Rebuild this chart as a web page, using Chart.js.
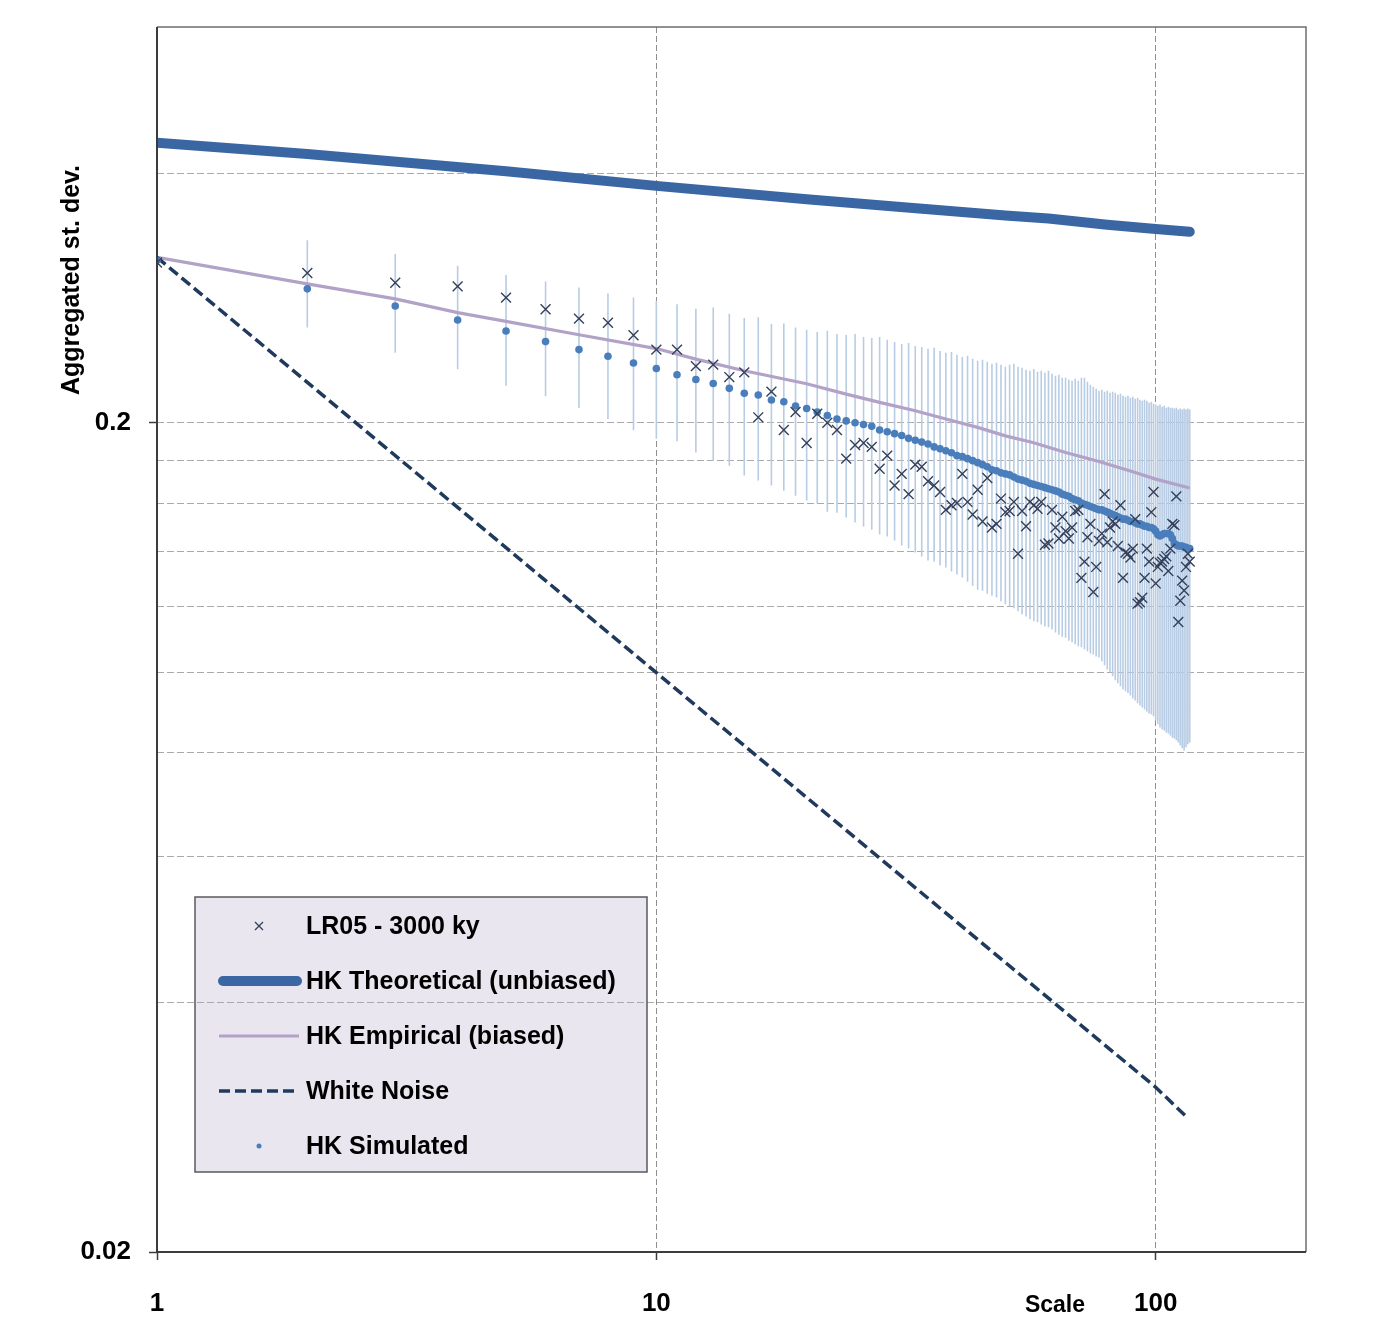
<!DOCTYPE html>
<html>
<head>
<meta charset="utf-8">
<script src="https://cdn.jsdelivr.net/npm/chart.js@4.4.0/dist/chart.umd.min.js"></script>
<style>
html,body{margin:0;padding:0;background:#ffffff;}
#wrap{width:1385px;height:1331px;position:relative;}
</style>
</head>
<body>
<div id="wrap"><canvas id="c" width="1385" height="1331"></canvas></div>
<script>
// ---------- DATA ----------
const scales = [1,2,3,4,5,6,7,8,9,10,11,12,13,14,15,16,17,18,19,20,21,22,23,24,25,26,27,28,29,30,
31,32,33,34,35,36,37,38,39,40,41,42,43,44,45,46,47,48,49,50,51,52,53,54,55,56,57,58,59,60,
61,62,63,64,65,66,67,68,69,70,71,72,73,74,75,76,77,78,79,80,81,82,83,84,85,86,87,88,89,90,
91,92,93,94,95,96,97,98,99,100,101,102,103,104,105,106,107,108,109,110,111,112,113,114,115,116,117];

const lr05 = [0.312,0.303,0.295,0.292,0.283,0.274,0.267,0.264,0.255,0.245,
0.245,0.234,0.235,0.227,0.230,0.203,0.218,0.196,0.206,0.189,
0.205,0.200,0.196,0.181,0.188,0.189,0.187,0.176,0.1825,0.168,
0.1735,0.164,0.178,0.177,0.170,0.168,0.165,0.157,0.159,0.160,
0.1735,0.1605,0.155,0.166,0.152,0.1715,0.1495,0.151,0.162,0.156,
0.1565,0.1605,0.139,0.1565,0.150,0.1605,0.159,0.1575,0.1605,0.1425,
0.143,0.157,0.1495,0.145,0.154,0.148,0.145,0.1495,0.1565,0.157,
0.130,0.136,0.1455,0.151,0.125,0.134,0.144,0.147,0.164,0.1435,
0.1495,0.152,0.151,0.142,0.159,0.130,0.1395,0.139,0.1375,0.141,
0.153,0.121,0.1215,0.123,0.130,0.141,0.136,0.156,0.165,0.128,
0.134,0.1355,0.136,0.137,0.138,0.1325,0.141,0.151,0.1505,0.163,
0.115,0.122,0.129,0.1255,0.134,0.139,0.136];

const simulated = [0.314,0.290,0.2765,0.266,0.258,0.2505,0.245,0.2405,0.236,0.2325,
0.2285,0.2255,0.223,0.220,0.217,0.216,0.213,0.212,0.2095,0.208,
0.206,0.204,0.202,0.201,0.200,0.199,0.198,0.196,0.195,0.194,
0.193,0.1915,0.1905,0.1895,0.1885,0.187,0.186,0.185,0.184,0.1825,
0.182,0.181,0.180,0.179,0.178,0.177,0.1755,0.175,0.174,0.1735,
0.173,0.172,0.171,0.1705,0.170,0.169,0.1685,0.168,0.1675,0.167,
0.1665,0.166,0.1655,0.165,0.164,0.1635,0.163,0.162,0.1615,0.161,
0.160,0.1595,0.159,0.1585,0.158,0.1575,0.157,0.157,0.1565,0.156,
0.1555,0.155,0.1545,0.154,0.1535,0.153,0.153,0.1525,0.152,0.152,
0.1515,0.151,0.151,0.1505,0.150,0.150,0.1495,0.1495,0.149,0.148,
0.1465,0.146,0.1465,0.147,0.147,0.147,0.1465,0.145,0.143,0.1425,
0.142,0.142,0.142,0.1415,0.1415,0.141,0.141];

const simHigh = [0.360,0.332,0.3194,0.3092,0.3014,0.2960,0.2911,0.2863,0.2832,0.2805,
0.2779,0.2745,0.2753,0.2706,0.2674,0.2680,0.2630,0.2634,0.2605,0.2588,
0.2573,0.2581,0.2559,0.2552,0.2559,0.2538,0.2531,0.2538,0.2517,0.2503,
0.2489,0.2496,0.2475,0.2468,0.2455,0.2462,0.2441,0.2428,0.2434,0.2415,
0.2401,0.2408,0.2388,0.2375,0.2382,0.2368,0.2355,0.2362,0.2349,0.2336,
0.2349,0.2355,0.2336,0.2329,0.2316,0.2310,0.2322,0.2304,0.2310,0.2297,
0.2310,0.2291,0.2279,0.2285,0.2266,0.2266,0.2253,0.2247,0.2260,0.2247,
0.2266,0.2266,0.2241,0.2222,0.2210,0.2197,0.2185,0.2191,0.2179,0.2185,
0.2173,0.2179,0.2173,0.2161,0.2167,0.2155,0.2150,0.2155,0.2144,0.2150,
0.2138,0.2144,0.2132,0.2126,0.2132,0.2126,0.2114,0.2120,0.2108,0.2103,
0.2097,0.2103,0.2091,0.2097,0.2085,0.2091,0.2085,0.2085,0.2080,0.2085,
0.2074,0.2080,0.2074,0.2080,0.2074,0.2080,0.2074];

const simLow = [0.2744,0.2605,0.2428,0.2320,0.2216,0.2152,0.2083,0.2021,0.1959,0.1913,
0.1899,0.1841,0.1800,0.1775,0.1727,0.1703,0.1680,0.1656,0.1633,0.1611,
0.1598,0.1562,0.1557,0.1537,0.1516,0.1499,0.1486,0.1466,0.1458,0.1442,
0.1422,0.1410,0.1395,0.1379,0.1364,0.1360,0.1345,0.1338,0.1323,0.1312,
0.1301,0.1286,0.1272,0.1258,0.1254,0.1244,0.1237,0.1231,0.1218,0.1208,
0.1201,0.1195,0.1185,0.1175,0.1168,0.1159,0.1152,0.1149,0.1142,0.1136,
0.1133,0.1126,0.1117,0.1110,0.1104,0.1101,0.1092,0.1087,0.1081,0.1075,
0.1072,0.1066,0.1060,0.1054,0.1051,0.1045,0.1042,0.1031,0.1020,0.1008,
0.1000,0.0989,0.0978,0.0970,0.0962,0.0954,0.0949,0.0944,0.0938,0.0930,
0.0925,0.0918,0.0912,0.0907,0.0902,0.0897,0.0892,0.0890,0.0885,0.0875,
0.0866,0.0858,0.0853,0.0851,0.0846,0.0844,0.0839,0.0834,0.0832,0.0828,
0.0823,0.0816,0.0810,0.0805,0.0812,0.0819,0.0823];

const theoScales = [1,2,5,10,20,30,50,61,80,100,117];
const theoValues = [0.435,0.4216,0.402,0.386,0.372,0.3645,0.3555,0.3525,0.3465,0.3424,0.3398];

const empScales = [1,2,3,4,5,7,10,12,15,20,24,28,33,38,44,50,57,66,77,90,100,117];
const empValues = [0.3165,0.294,0.282,0.2715,0.265,0.2553,0.2457,0.2386,0.231,0.2228,0.2165,0.2116,0.2067,0.2021,0.1974,0.1928,0.1892,0.1841,0.1796,0.1745,0.171,0.1668];

const wnScales = [1,10,100,116];
const wnValues = [0.3165,0.0999,0.0316,0.0290];

const seriesLabels = ['LR05 - 3000 ky','HK Theoretical (unbiased)','HK Empirical (biased)','White Noise','HK Simulated'];

const xTickValues = [1,10,100,200];
const xTickLabels = ['1','10','100',''];
const yTickValues = [0.02,0.04,0.06,0.08,0.1,0.12,0.14,0.16,0.18,0.2,0.4,0.6];
const yTickLabels = ['0.02','','','','','','','','','0.2','',''];

const xTitle = 'Scale';
const yTitle = 'Aggregated st. dev.';

// ---------- STYLES ----------
const FONT = '"Liberation Sans", Arial, sans-serif';
const C_THEO = '#3A67A3';
const C_EMP = '#B3A2C7';
const C_WN = '#1F3A5C';
const C_LR = '#34405A';
const C_SIM = '#4A7EBB';
const C_ERR = '#B8CCE4';

const pts = (xs, ys) => xs.map((x, i) => ({x: x, y: ys[i]}));
const errData = [];
scales.forEach((k, i) => {
  errData.push({x: k, y: simLow[i]}, {x: k, y: simHigh[i]}, {x: k, y: null});
});

function labelFor(values, labels, v) {
  for (let i = 0; i < values.length; i++) {
    if (Math.abs(values[i] - v) < 1e-9 * Math.max(1, v)) return labels[i];
  }
  return '';
}
const isEdge = (values, v) => Math.abs(v - values[0]) < 1e-12 || Math.abs(v - values[values.length - 1]) < 1e-9;

const decor = {
  id: 'decor',
  beforeDraw(chart) {
    const ctx = chart.ctx;
    ctx.save();
    ctx.fillStyle = '#ffffff';
    ctx.fillRect(0, 0, chart.width, chart.height);
    // legend background (under grid lines, as in the original)
    ctx.fillStyle = '#EAE6EF';
    ctx.fillRect(195, 897, 452, 275);
    ctx.restore();
  },
  afterDraw(chart) {
    const ctx = chart.ctx;
    const a = chart.chartArea;
    ctx.save();
    // frame
    ctx.strokeStyle = '#6E6E6E';
    ctx.lineWidth = 1.5;
    ctx.beginPath();
    ctx.moveTo(a.left, a.top); ctx.lineTo(a.right, a.top); ctx.lineTo(a.right, a.bottom);
    ctx.stroke();
    ctx.strokeStyle = '#3C3C3C';
    ctx.lineWidth = 2;
    ctx.beginPath();
    ctx.moveTo(a.left, a.top); ctx.lineTo(a.left, a.bottom); ctx.lineTo(a.right, a.bottom);
    ctx.stroke();

    // axis titles
    ctx.fillStyle = '#000';
    ctx.font = 'bold 25px ' + FONT;
    ctx.textAlign = 'center';
    ctx.textBaseline = 'middle';
    ctx.save();
    ctx.translate(72, 280);
    ctx.rotate(-Math.PI / 2);
    ctx.fillText(yTitle, 0, 0);
    ctx.restore();
    ctx.font = 'bold 23px ' + FONT;
    ctx.fillText(xTitle, 1055, 1306);

    // legend
    ctx.strokeStyle = '#595959';
    ctx.lineWidth = 1.5;
    ctx.strokeRect(195, 897, 452, 275);
    const rows = [926, 981, 1036, 1091, 1146];
    const mx = 259;
    // LR05 cross
    ctx.strokeStyle = C_LR; ctx.lineWidth = 1.3;
    ctx.beginPath();
    ctx.moveTo(mx - 4, rows[0] - 4); ctx.lineTo(mx + 4, rows[0] + 4);
    ctx.moveTo(mx + 4, rows[0] - 4); ctx.lineTo(mx - 4, rows[0] + 4);
    ctx.stroke();
    // theoretical
    ctx.strokeStyle = C_THEO; ctx.lineWidth = 10; ctx.lineCap = 'round';
    ctx.beginPath(); ctx.moveTo(223, rows[1]); ctx.lineTo(297, rows[1]); ctx.stroke();
    // empirical
    ctx.strokeStyle = C_EMP; ctx.lineWidth = 3; ctx.lineCap = 'butt';
    ctx.beginPath(); ctx.moveTo(219, rows[2]); ctx.lineTo(299, rows[2]); ctx.stroke();
    // white noise
    ctx.strokeStyle = C_WN; ctx.lineWidth = 3.5; ctx.setLineDash([11, 5]);
    ctx.beginPath(); ctx.moveTo(219, rows[3]); ctx.lineTo(299, rows[3]); ctx.stroke();
    ctx.setLineDash([]);
    // simulated dot
    ctx.fillStyle = C_SIM;
    ctx.beginPath(); ctx.arc(mx, rows[4], 2.5, 0, Math.PI * 2); ctx.fill();
    // texts
    ctx.fillStyle = '#000';
    ctx.font = 'bold 25px ' + FONT;
    ctx.textAlign = 'left';
    ctx.textBaseline = 'middle';
    seriesLabels.forEach((t, i) => ctx.fillText(t, 306, rows[i] + 1));
    ctx.restore();
  }
};

new Chart(document.getElementById('c'), {
  type: 'scatter',
  data: {
    datasets: [
      {label: 'errors', data: errData, showLine: true, spanGaps: false, borderColor: C_ERR, borderWidth: 1.6, pointRadius: 0, order: 6},
      {label: seriesLabels[2], data: pts(empScales, empValues), showLine: true, borderColor: C_EMP, borderWidth: 3.2, pointRadius: 0, order: 5},
      {label: seriesLabels[3], data: pts(wnScales, wnValues), showLine: true, borderColor: C_WN, borderWidth: 3.5, borderDash: [11, 5], pointRadius: 0, order: 4},
      {label: seriesLabels[4], data: pts(scales, simulated), showLine: false, pointStyle: 'circle', pointRadius: 3.8, pointBorderWidth: 0, backgroundColor: C_SIM, borderColor: C_SIM, order: 3},
      {label: seriesLabels[0], data: pts(scales, lr05), showLine: false, pointStyle: 'crossRot', pointRadius: 7, pointBorderWidth: 1.4, borderColor: C_LR, backgroundColor: C_LR, order: 2},
      {label: seriesLabels[1], data: pts(theoScales, theoValues), showLine: true, borderColor: C_THEO, borderWidth: 10, borderCapStyle: 'round', borderJoinStyle: 'round', pointRadius: 0, order: 1,
       clip: {left: 0, top: false, right: false, bottom: false}}
    ]
  },
  options: {
    responsive: false,
    devicePixelRatio: 1,
    animation: false,
    events: [],
    layout: {padding: {left: 0, top: 27, right: 79, bottom: 0}},
    plugins: {legend: {display: false}, tooltip: {enabled: false}},
    scales: {
      x: {
        type: 'logarithmic', min: 1, max: 200, position: 'bottom',
        afterBuildTicks: s => { s.ticks = xTickValues.map(v => ({value: v})); },
        afterFit: s => { s.height = 79; s.paddingLeft = 0; s.paddingRight = 0; },
        grid: {
          color: c => (c.tick && isEdge(xTickValues, c.tick.value)) ? 'rgba(0,0,0,0)' : '#8E8E8E',
          lineWidth: 1, tickLength: 8, tickWidth: 1.5,
          tickColor: c => (c.tick && labelFor(xTickValues, xTickLabels, c.tick.value) !== '') ? '#3C3C3C' : 'rgba(0,0,0,0)'
        },
        border: {display: false, dash: [6, 3]},
        ticks: {
          autoSkip: false, maxRotation: 0, minRotation: 0, padding: 28, color: '#000',
          font: {family: FONT, size: 26, weight: 'bold'},
          callback: v => labelFor(xTickValues, xTickLabels, v)
        }
      },
      y: {
        type: 'logarithmic', min: 0.02, max: 0.6,
        afterBuildTicks: s => { s.ticks = yTickValues.map(v => ({value: v})); },
        afterFit: s => { s.width = 157; s.paddingTop = 0; s.paddingBottom = 0; },
        grid: {
          color: c => (c.tick && isEdge(yTickValues, c.tick.value)) ? 'rgba(0,0,0,0)' : '#AAAAAA',
          lineWidth: 1, tickLength: 8, tickWidth: 1.5,
          tickColor: c => (c.tick && labelFor(yTickValues, yTickLabels, c.tick.value) !== '') ? '#3C3C3C' : 'rgba(0,0,0,0)'
        },
        border: {display: false, dash: [7, 3]},
        ticks: {
          autoSkip: false, padding: 18, color: '#000',
          font: {family: FONT, size: 26, weight: 'bold'},
          callback: v => labelFor(yTickValues, yTickLabels, v)
        }
      }
    }
  },
  plugins: [decor]
});
</script>
</body>
</html>
